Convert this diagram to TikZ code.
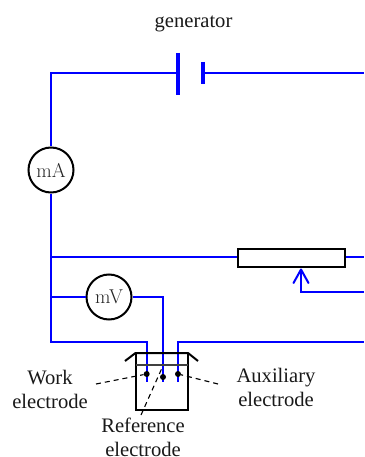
\documentclass[tikz,border=0pt]{standalone}
\usepackage{fontspec}
\setmainfont{Liberation Serif}
\newfontfamily\lmfont{Latin Modern Roman}
\tikzset{
  wire/.style={draw=blue,line width=2pt},
  plate/.style={draw=blue,line width=3.6pt},
  meter/.style={circle,draw=black,line width=2pt,fill=white,minimum size=45pt,inner sep=0pt,font=\lmfont\fontsize{20}{20}\selectfont,text=black!85},
  heavy/.style={draw=black,line width=2pt},
  pointer/.style={draw=black,line width=1.1pt,dash pattern=on 5pt off 4pt},
  lbl/.style={font=\fontsize{20.6}{24}\selectfont,align=center,inner sep=0pt,text=black!90},
  pin/.style={circle,fill=black,minimum size=6pt,inner sep=0pt},
}
\begin{document}
\begin{tikzpicture}[x=1pt,y=-1pt]
\useasboundingbox (0,0) rectangle (364,457);
% places
\coordinate (pl) at (178,73);
\coordinate (pr) at (203,73);
\coordinate (tl) at (51,73);
\coordinate (tr) at (364,73);
\coordinate (jr) at (51,257);
\coordinate (jv) at (51,297);
\coordinate (bl) at (51,342);
\coordinate (wt) at (146.7,342);
\coordinate (we) at (146.7,382);
\coordinate (vt) at (163,297);
\coordinate (re) at (163,382);
\coordinate (at) at (178,342);
\coordinate (ae) at (178,382);
\coordinate (ar) at (364,342);
\coordinate (rr) at (364,257);
\coordinate (sr) at (364,292);
\coordinate (sc) at (301,292);
\coordinate (sa) at (301,269.5);
\coordinate (sl) at (293.5,283);
\coordinate (sm) at (308.5,283);
\coordinate (plA) at (178,53);
\coordinate (plB) at (178,95);
\coordinate (psA) at (203,62);
\coordinate (psB) at (203,84);
% nodes
\node[meter] (mA) at (51,170) {mA};
\node[meter] (mV) at (109,297) {mV};
\node[draw=black,line width=2pt,fill=white,minimum width=107pt,minimum height=18pt,inner sep=0pt] (res) at (291.5,257.5) {};
% wires
\draw[wire,line join=miter] (pl) -- (tl) -- (mA.north);
\draw[wire,line join=miter] (mA.south) -- (bl) -- (wt) -- (we);
\draw[wire] (pr) -- (tr);
\draw[wire] (jr) -- (jr -| res.west);
\draw[wire] (res.east |- rr) -- (rr);
\draw[wire] (jv) -- (mV.west);
\draw[wire] (mV.east) -- (vt) -- (re);
\draw[wire] (ae) -- (at) -- (ar);
\draw[wire] (sr) -- (sc) -- (sa);
\draw[wire,line cap=round,line join=round] (sl) -- (sa) -- (sm);
\draw[plate] (plA) -- (plB);
\draw[plate,line width=4pt] (psA) -- (psB);
% cell
\draw[heavy] (125,361) -- (135.5,353) -- (188,353) -- (198,361);
\draw[heavy] (136,353) -- (136,409.5) -- (188,409.5) -- (188,353);
\draw[draw=black!75,line width=1.2pt] (136,365) -- (188,365);
\node[pin] (dw) at (146.7,374) {};
\node[pin] (dr) at (163,377) {};
\node[pin] (da) at (178,374) {};
% labels
\node[lbl] (gen) at (193.5,24) {generator};
\node[lbl] (lw) at (50,389) {Work\\electrode};
\node[lbl] (la) at (276,387) {Auxiliary\\electrode};
\node[lbl] (lr) at (143,437) {Reference\\electrode};
\coordinate (pw) at (96,384);
\coordinate (pa) at (218,384);
\coordinate (pf) at (141,415);
\coordinate (pt) at (162,368);
\draw[pointer] (pw) -- (dw);
\draw[pointer] (pa) -- (da);
\draw[pointer] (pf) -- (pt);
\end{tikzpicture}
\end{document}
